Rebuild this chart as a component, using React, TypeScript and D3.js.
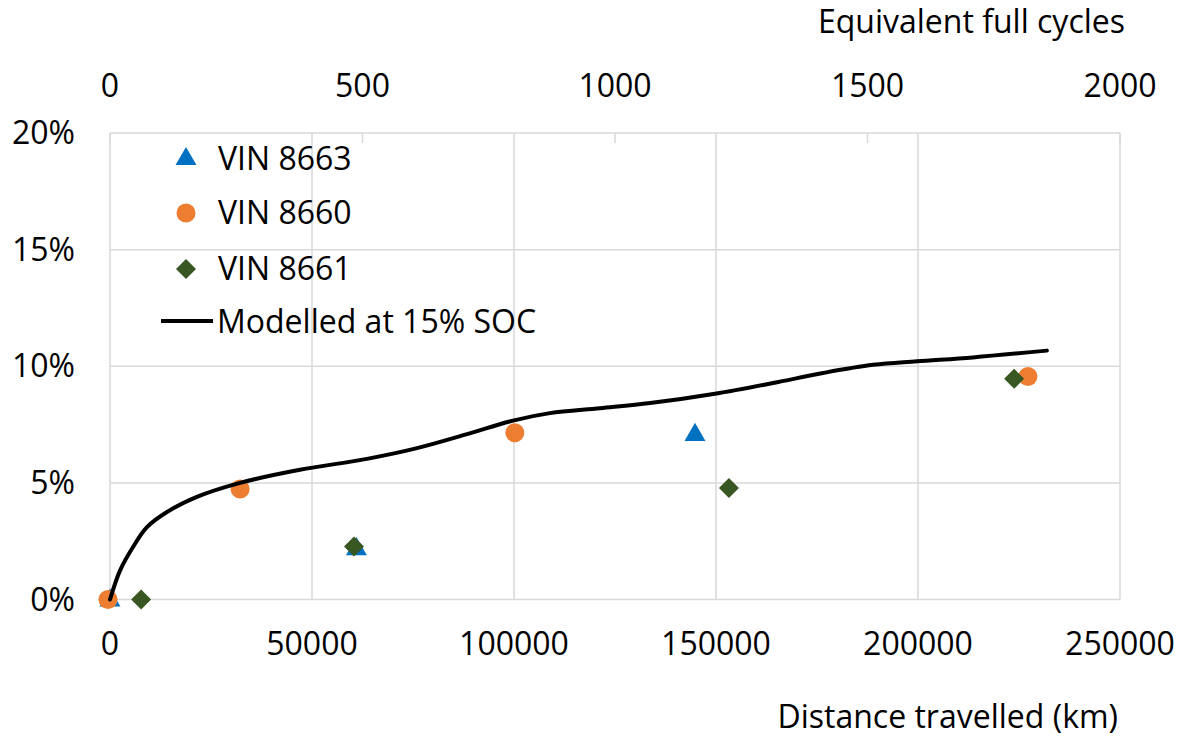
import { useEffect, useRef } from 'react';
import * as d3 from 'd3';

// Capacity loss vs distance travelled
const vin8663Km = [0, 61000, 144800];
const vin8663Loss = [0, 2.2, 7.1];

const vin8660Km = [0, 32700, 100700, 227700];
const vin8660Loss = [0, 4.74, 7.15, 9.56];

const vin8661Km = [7700, 60400, 153200, 223800];
const vin8661Loss = [0, 2.27, 4.78, 9.46];

// Modelled curve at 15% SOC
const modelKm = [0, 2500, 5700, 9150, 14100, 21500, 32200, 47000, 63600, 76000, 88400, 99750, 108900, 121300, 133700, 149750, 164100, 176500, 188900, 199750, 213600, 231900];
const modelLoss = [0, 1.25, 2.25, 3.1, 3.75, 4.4, 5.0, 5.56, 6.03, 6.49, 7.09, 7.67, 7.99, 8.2, 8.42, 8.82, 9.28, 9.71, 10.06, 10.21, 10.38, 10.67];

const yTicks = [0, 5, 10, 15, 20];
const xTicks = [0, 50000, 100000, 150000, 200000, 250000];
const cycleTicks = [0, 500, 1000, 1500, 2000];

const legendLabels = ['VIN 8663', 'VIN 8660', 'VIN 8661', 'Modelled at 15% SOC'];

const FONT = '"Open Sans", sans-serif';

export default function App() {
  const svgRef = useRef<SVGSVGElement>(null);

  useEffect(() => {
    if (!svgRef.current) return;
    const svg = d3.select(svgRef.current);
    svg.selectAll('*').remove();

    const left = 110, right = 1120, top = 133, bottom = 599.5;

    const x = d3.scaleLinear().domain([0, 250000]).range([left, right]);
    const xTop = d3.scaleLinear().domain([0, 2000]).range([left, right]);
    const y = d3.scaleLinear().domain([0, 20]).range([bottom, top]);

    const grid = '#d9d9d9';

    // gridlines
    svg.append('g')
      .selectAll('line')
      .data(yTicks)
      .enter()
      .append('line')
      .attr('x1', left)
      .attr('x2', right)
      .attr('y1', d => y(d))
      .attr('y2', d => y(d))
      .attr('stroke', grid)
      .attr('stroke-width', 1.5);

    svg.append('g')
      .selectAll('line')
      .data(xTicks)
      .enter()
      .append('line')
      .attr('x1', d => x(d))
      .attr('x2', d => x(d))
      .attr('y1', top)
      .attr('y2', bottom)
      .attr('stroke', grid)
      .attr('stroke-width', 1.5);

    // top axis tick marks (pointing into the plot)
    svg.append('g')
      .selectAll('line')
      .data(cycleTicks)
      .enter()
      .append('line')
      .attr('x1', d => xTop(d))
      .attr('x2', d => xTop(d))
      .attr('y1', top)
      .attr('y2', top + 10)
      .attr('stroke', grid)
      .attr('stroke-width', 1.5);

    // tick labels
    svg.append('g')
      .selectAll('text')
      .data(yTicks)
      .enter()
      .append('text')
      .attr('x', 75)
      .attr('y', d => y(d) + 11)
      .attr('text-anchor', 'end')
      .text(d => `${d}%`);

    svg.append('g')
      .selectAll('text')
      .data(xTicks)
      .enter()
      .append('text')
      .attr('x', d => x(d))
      .attr('y', 655)
      .attr('text-anchor', 'middle')
      .text(d => `${d}`);

    svg.append('g')
      .selectAll('text')
      .data(cycleTicks)
      .enter()
      .append('text')
      .attr('x', d => xTop(d))
      .attr('y', 97)
      .attr('text-anchor', 'middle')
      .text(d => `${d}`);

    // axis titles
    svg.append('text')
      .attr('x', 1125)
      .attr('y', 33)
      .attr('text-anchor', 'end')
      .text('Equivalent full cycles');

    svg.append('text')
      .attr('x', 1118)
      .attr('y', 728)
      .attr('text-anchor', 'end')
      .text('Distance travelled (km)');

    const blue = '#0070c0';
    const orange = '#ed7d31';
    const green = '#385723';

    const tri = d3.symbol().type(d3.symbolTriangle).size(190);
    const circ = d3.symbol().type(d3.symbolCircle).size(285);
    const diam = d3.symbol().type(d3.symbolSquare).size(200);

    // VIN 8663
    svg.append('g')
      .selectAll('path')
      .data(vin8663Km.map((k, i) => [k, vin8663Loss[i]]))
      .enter()
      .append('path')
      .attr('d', tri() as string)
      .attr('transform', d => `translate(${x(d[0])},${y(d[1]) + 1})`)
      .attr('fill', blue);

    // VIN 8660
    svg.append('g')
      .selectAll('path')
      .data(vin8660Km.map((k, i) => [k, vin8660Loss[i]]))
      .enter()
      .append('path')
      .attr('d', circ() as string)
      .attr('transform', d => `translate(${x(d[0]) - 2},${y(d[1])})`)
      .attr('fill', orange);

    // VIN 8661
    svg.append('g')
      .selectAll('path')
      .data(vin8661Km.map((k, i) => [k, vin8661Loss[i]]))
      .enter()
      .append('path')
      .attr('d', diam() as string)
      .attr('transform', d => `translate(${x(d[0])},${y(d[1])}) rotate(45)`)
      .attr('fill', green);

    // model line
    const line = d3.line<number>()
      .x((_, i) => x(modelKm[i]))
      .y(d => y(d))
      .curve(d3.curveCatmullRom.alpha(0.5));

    svg.append('path')
      .datum(modelLoss)
      .attr('d', line)
      .attr('fill', 'none')
      .attr('stroke', '#000')
      .attr('stroke-width', 4)
      .attr('stroke-linecap', 'round')
      .attr('stroke-linejoin', 'round');

    // legend
    const legendX = 186;
    const legendY = [158, 212, 268, 321];
    const legend = svg.append('g');
    const shapes = [
      { d: tri() as string, fill: blue, rot: 0 },
      { d: circ() as string, fill: orange, rot: 0 },
      { d: diam() as string, fill: green, rot: 45 },
    ];
    shapes.forEach((s, i) => {
      legend.append('path')
        .attr('d', s.d)
        .attr('transform', `translate(${legendX},${legendY[i] + 1}) rotate(${s.rot})`)
        .attr('fill', s.fill);
    });
    legend.append('line')
      .attr('x1', 161)
      .attr('x2', 213)
      .attr('y1', legendY[3])
      .attr('y2', legendY[3])
      .attr('stroke', '#000')
      .attr('stroke-width', 4);

    legend.selectAll('text')
      .data(legendLabels)
      .enter()
      .append('text')
      .attr('x', (_, i) => (i < 3 ? 218 : 217))
      .attr('y', (_, i) => legendY[i] + 12)
      .text(d => d);

    svg.selectAll('text')
      .attr('font-family', FONT)
      .attr('font-size', '32px')
      .attr('fill', '#000');
  }, []);

  return (
    <svg
      ref={svgRef}
      width={1184}
      height={737}
      style={{ position: 'absolute', left: 0, top: 0, background: '#fff' }}
    />
  );
}
